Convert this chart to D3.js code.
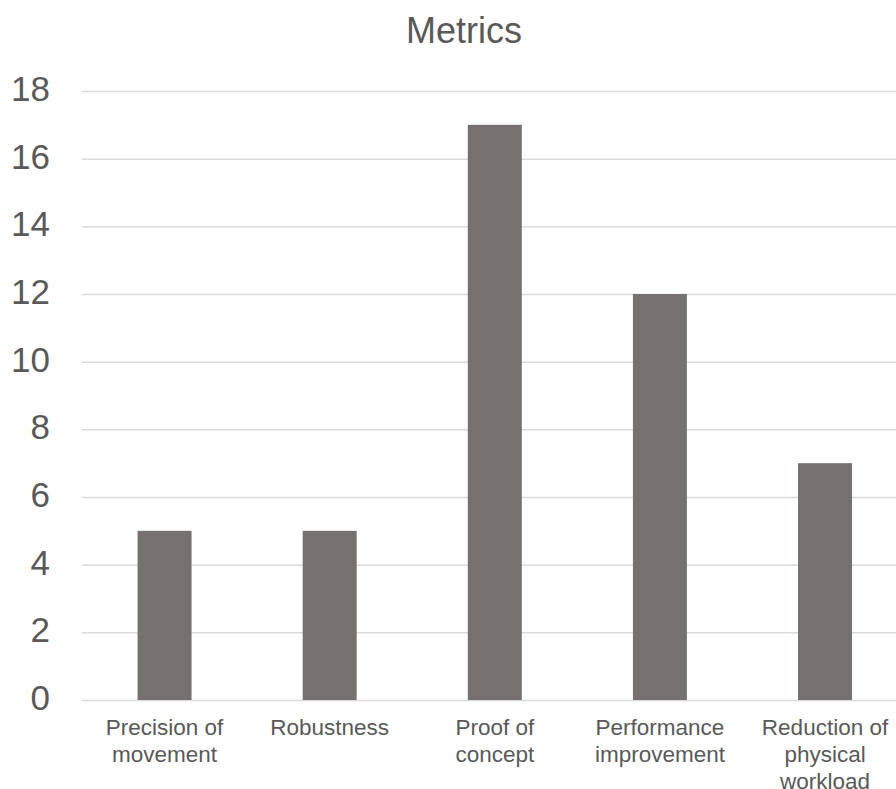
<!DOCTYPE html>
<html lang="en">
<head>
<meta charset="UTF-8">
<title>Metrics</title>
<style>
  body { margin: 0; background: #fff; overflow: hidden; }
  svg { display: block; font-family: "Liberation Sans", Arial, sans-serif; }
  .grid line { stroke: #d9d9d9; stroke-width: 1.5; }
  .grid path { display: none; }
  .yaxis text { font-size: 35px; fill: #595959; }
  .xlabel { font-size: 22.5px; fill: #595959; }
</style>
</head>
<body>
<div id="chart"></div>
<script src="https://d3js.org/d3.v7.min.js"></script>
<script>
// data
const categories = ["Precision of movement", "Robustness", "Proof of concept", "Performance improvement", "Reduction of physical workload"];
const values = [5, 5, 17, 12, 7];
const tickLabels = [["Precision of", "movement"], ["Robustness"], ["Proof of", "concept"], ["Performance", "improvement"], ["Reduction of", "physical", "workload"]];
const yTicks = [0, 2, 4, 6, 8, 10, 12, 14, 16, 18];

const W = 896, H = 789;
const plotLeft = 82, plotRight = 907.6, plotTop = 91, plotBottom = 700;

const svg = d3.select("#chart").append("svg")
  .attr("width", W).attr("height", H);

const x = d3.scaleBand()
  .domain(categories)
  .range([plotLeft, plotRight])
  .paddingInner(0.673)
  .paddingOuter(0.3365);

const y = d3.scaleLinear()
  .domain([0, 18])
  .range([plotBottom, plotTop]);

// gridlines
svg.append("g")
  .attr("class", "grid")
  .attr("transform", `translate(${plotLeft},0)`)
  .call(d3.axisLeft(y).tickValues(yTicks).tickSize(-(plotRight - plotLeft)).tickFormat(""));

// y labels
svg.append("g")
  .attr("class", "yaxis")
  .selectAll("text")
  .data(yTicks)
  .join("text")
    .attr("x", 50)
    .attr("y", d => y(d) + 10)
    .attr("text-anchor", "end")
    .text(d => d);

// bars
svg.selectAll("rect.bar")
  .data(values)
  .join("rect")
    .attr("class", "bar")
    .attr("x", (d, i) => x(categories[i]))
    .attr("y", d => y(d))
    .attr("width", x.bandwidth())
    .attr("height", d => y(0) - y(d))
    .attr("fill", "#767171");

// category labels
const lbl = svg.selectAll("text.xlabel")
  .data(categories)
  .join("text")
    .attr("class", "xlabel")
    .attr("text-anchor", "middle")
    .attr("x", d => x(d) + x.bandwidth() / 2)
    .attr("y", 735);
lbl.selectAll("tspan")
  .data((d, i) => tickLabels[i])
  .join("tspan")
    .attr("x", function() { return this.parentNode.getAttribute("x"); })
    .attr("dy", (d, i) => i === 0 ? 0 : 27)
    .text(d => d);

// title
svg.append("text")
  .attr("x", 464).attr("y", 43)
  .attr("text-anchor", "middle")
  .style("font-size", "36px")
  .style("fill", "#595959")
  .text("Metrics");
</script>
</body>
</html>
